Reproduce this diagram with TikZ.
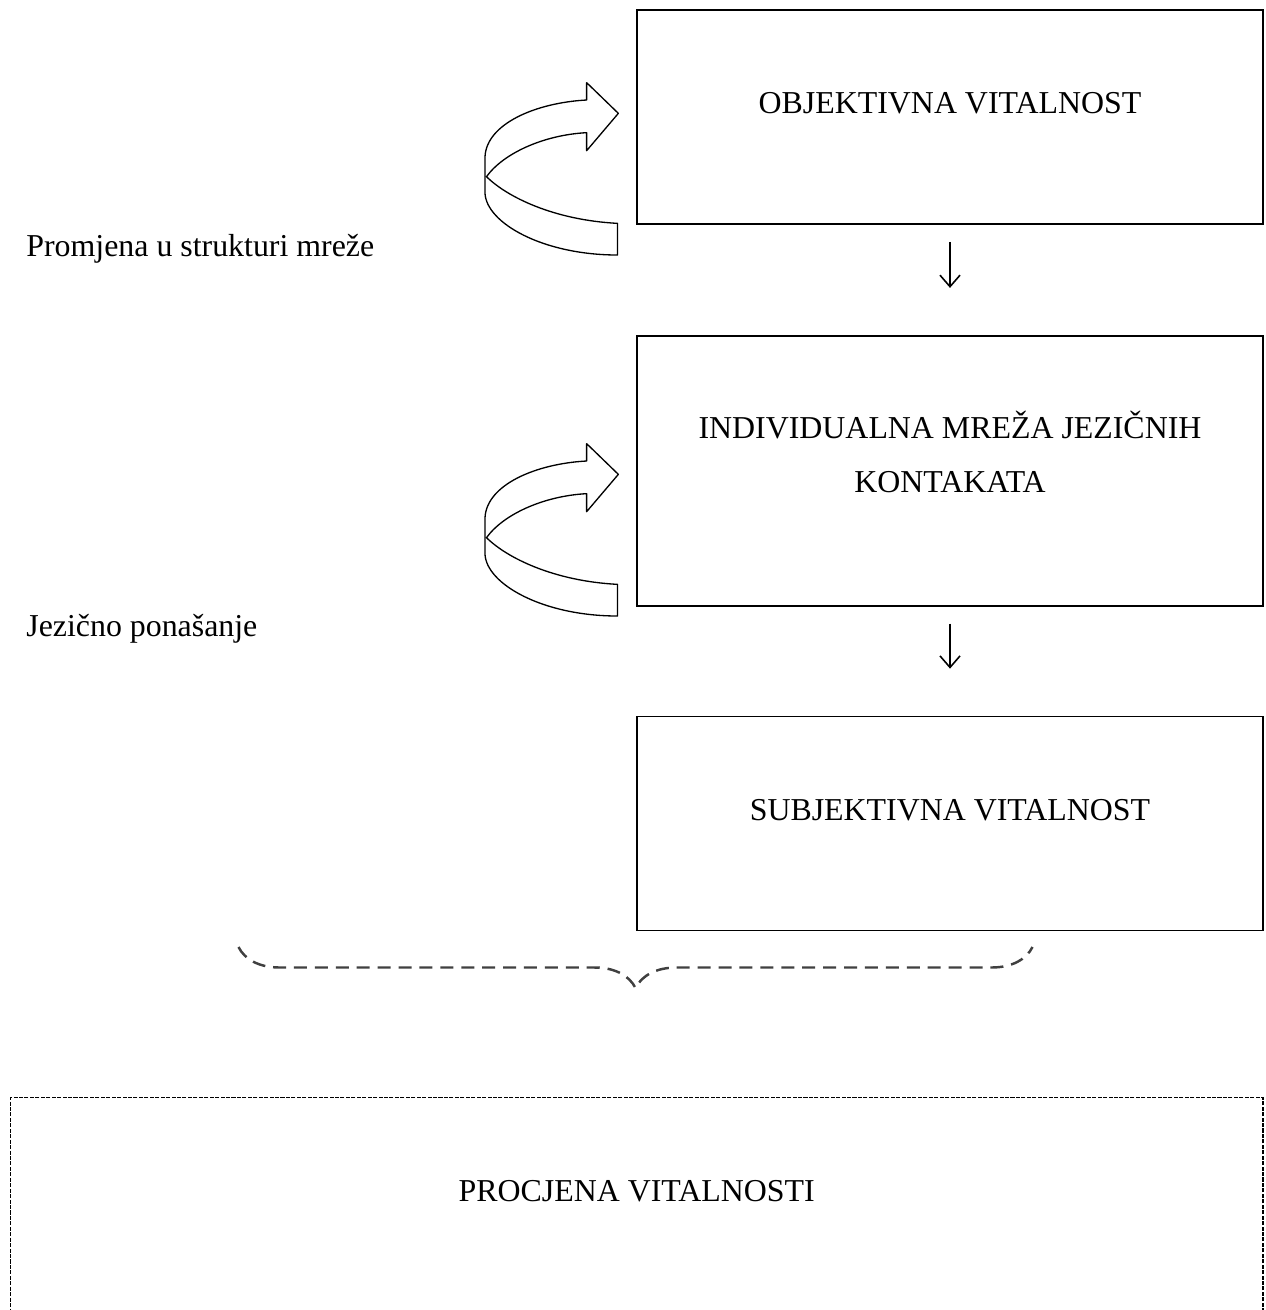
\documentclass[tikz,border=0pt]{standalone}
\usepackage{fontspec}
\setmainfont{Liberation Serif}
\usetikzlibrary{arrows.meta,positioning,decorations.pathreplacing}

\begin{document}
\begin{tikzpicture}[
  font=\fontsize{18.14}{30.7}\selectfont,
  box/.style={draw,line width=1pt,minimum width=12.52cm,align=center,inner sep=0pt,text height=0.44cm,text depth=0.58cm},
  pbox/.style={box,line width=0.8pt,dash pattern=on 2.3pt off 0.8pt},
  arr/.style={-{Straight Barb[length=2.3mm,width=4mm]},line width=0.9pt,shorten <=0.34cm,shorten >=0.94cm},
  ribbon/.style={draw,line width=0.75pt,line join=round},
  brc/.style={decorate,decoration={brace,mirror,amplitude=0.82cm},line width=1.4pt,draw=black!75,dash pattern=on 7.4pt off 4.5pt},
  lbl/.style={anchor=base west,inner sep=0pt}]
% page
\useasboundingbox (0,0) rectangle (25.3,-26.2);
\clip (0,0) rectangle (25.3,-26.2);
% main column
\node[box,minimum height=4.28cm] (obj) at (19,-2.34) {OBJEKTIVNA VITALNOST};
\node[box,minimum height=5.4cm,text height=1.52cm,text depth=0.64cm,below=2.2cm of obj] (ind) {INDIVIDUALNA MREŽA JEZIČNIH\\KONTAKATA};
\node[box,minimum height=4.28cm,below=2.18cm of ind] (subj) {SUBJEKTIVNA VITALNOST};
\draw[arr] (obj) -- (ind);
\draw[arr] (ind) -- (subj);
% side labels
\node[lbl] (chg) at (0.52,-5.13) {Promjena u strukturi mreže};
\node[lbl] (beh) at (0.52,-12.72) {Jezično ponašanje};
% turning arrows
\foreach \yy in {-1.2,-8.42}
  \draw[ribbon,shift={(9.4,\yy)}] (2.333,-0.8) .. controls (1.333,-0.853) and (0.333,-1.267) .. (0.3,-1.933)
    -- (0.3,-2.667) .. controls (0.333,-3.267) and (1.467,-3.9) .. (2.95,-3.9) -- (2.95,-3.267)
    .. controls (1.667,-3.2) and (0.733,-2.733) .. (0.33,-2.333)
    .. controls (0.667,-1.867) and (1.467,-1.5) .. (2.333,-1.453)
    -- (2.333,-1.813) -- (2.967,-1.067) -- (2.333,-0.453) -- cycle;
% brace
\coordinate (bl) at (4.77,-18.94);
\coordinate (br) at (20.65,-18.94);
\draw[brc] (bl) -- (br);
% assessment
\node[pbox,minimum width=25.05cm,minimum height=4.3cm,anchor=north] (proc) at (12.735,-21.94) {PROCJENA VITALNOSTI};
\end{tikzpicture}
\end{document}
